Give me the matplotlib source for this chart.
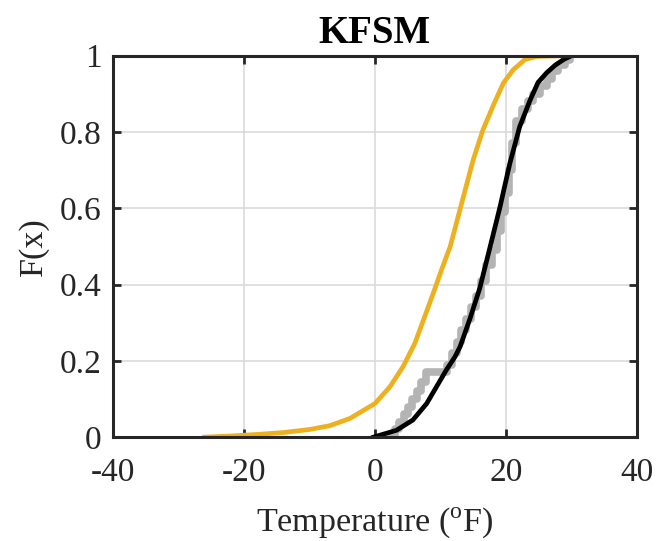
import numpy as np
import matplotlib
matplotlib.use("Agg")
import matplotlib.pyplot as plt

plt.rcParams['font.family'] = ['Liberation Serif', 'DejaVu Serif']
plt.rcParams['mathtext.fontset'] = 'custom'
plt.rcParams['mathtext.rm'] = 'Liberation Serif'
plt.rcParams['axes.unicode_minus'] = False

# empirical CDF (observed), step vertices
obs_x = [2.5, 3.0, 3.7, 4.4, 5.0, 5.7, 6.4, 7.1, 7.8, 11.0, 11.8, 12.5, 13.2, 13.9,
         14.7, 15.4, 16.2, 17.0, 17.8, 18.6, 19.3, 19.9, 20.5, 20.9, 21.5, 22.5,
         23.3, 24.2, 25.2, 26.2, 27.1, 28.0, 29.0, 29.8]
obs_y = [0.0, 0.02, 0.04, 0.06, 0.08, 0.10, 0.12, 0.145, 0.17, 0.19, 0.22, 0.25, 0.28, 0.31,
         0.34, 0.37, 0.41, 0.45, 0.49, 0.54, 0.59, 0.64, 0.70, 0.77, 0.83, 0.86,
         0.88, 0.90, 0.92, 0.94, 0.96, 0.975, 0.99, 1.0]

# fitted CDF (black)
fit_x = [-0.2, 3.3, 5.8, 7.9, 9.4, 10.9, 12.2, 13.0, 14.5, 16.0, 17.6, 19.1, 20.6,
         22.1, 23.7, 24.9, 26.2, 27.5, 28.8, 30.0]
fit_y = [0, 0.018, 0.045, 0.088, 0.132, 0.176, 0.21, 0.237, 0.31, 0.39, 0.50, 0.604,
         0.718, 0.814, 0.884, 0.93, 0.955, 0.975, 0.99, 1.0]

# model CDF (orange)
mod_x = [-26, -22, -18, -14, -10, -6.9, -3.8, 0, 2.3, 4.3, 6.1, 7.6, 8.9, 10.2, 11.5,
         13.5, 15.0, 16.5, 18.1, 19.6, 21.1, 22.9, 24.7, 26.5, 28.7]
mod_y = [0, 0.003, 0.007, 0.012, 0.02, 0.03, 0.049, 0.088, 0.132, 0.185, 0.246, 0.316,
         0.377, 0.44, 0.50, 0.63, 0.727, 0.806, 0.871, 0.928, 0.963, 0.99, 0.998, 0.999, 1.0]

fig = plt.figure(figsize=(6.56, 5.41), dpi=100)
ax = fig.add_axes([0.172, 0.192, 0.799, 0.705])

ax.plot(obs_x, obs_y, drawstyle='steps-post', color='#b4b4b4', lw=5.5,
        solid_joinstyle='round', solid_capstyle='round')
ax.plot(fit_x, fit_y, color='black', lw=3.4, solid_joinstyle='round')
ax.plot(mod_x, mod_y, color='#EDB120', lw=3.4, solid_joinstyle='round')

ax.set_xlim(-40, 40)
ax.set_ylim(0, 1)
ax.set_xticks([-40, -20, 0, 20, 40])
ax.set_yticks([0, 0.2, 0.4, 0.6, 0.8, 1])
ax.set_yticklabels(['0', '0.2', '0.4', '0.6', '0.8', '1'])
ax.grid(True, color='#dadada', lw=1.2)
ax.set_axisbelow(True)
ax.tick_params(direction='in', length=6, width=2, top=True, right=True,
               labelsize=24, colors='#262626')
ax.tick_params(axis='x', pad=15)
ax.tick_params(axis='y', pad=8)
for s in ax.spines.values():
    s.set_linewidth(2.2)
    s.set_color('#262626')

ax.set_title('KFSM', fontsize=28, fontweight='bold', pad=9)
ax.set_xlabel(r'Temperature ($^{\rm o}$F)', fontsize=24.5, color='#262626', labelpad=12)
ax.set_ylabel('F(x)', fontsize=24.5, color='#262626', labelpad=8)

fig.savefig('out.png', dpi=100)
